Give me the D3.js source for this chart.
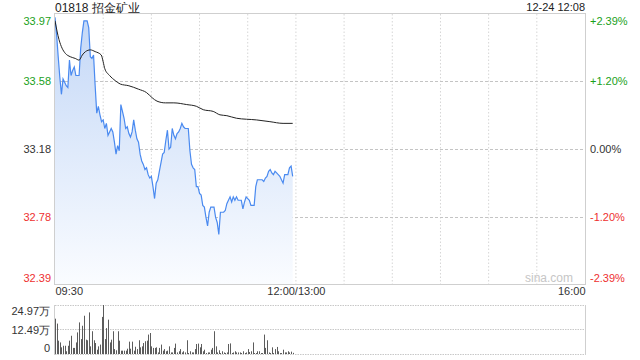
<!DOCTYPE html>
<html>
<head>
<meta charset="utf-8">
<script src="https://cdn.jsdelivr.net/npm/d3@7"></script>
<style>
  body { margin: 0; background: #fff; }
  text { font-family: Arial, "Liberation Sans", sans-serif; }
</style>
</head>
<body>
<svg id="chart" width="640" height="360"></svg>
<script>
// intraday chart, 01818

const title = "01818 招金矿业";
const stamp = "12-24 12:08";
const prevClose = 33.18;

const priceTicks = [33.97, 33.58, 33.18, 32.78, 32.39];
const pctLabels = ["+2.39%", "+1.20%", "0.00%", "-1.20%", "-2.39%"];
const timeTicks = [0, 150, 330];
const timeLabels = ["09:30", "12:00/13:00", "16:00"];
const volTicks = [24.97, 12.49, 0];
const volLabels = ["24.97万", "12.49万", "0"];

// one price per minute from 09:30
const prices = [
  33.95, 33.85, 33.72, 33.60, 33.50, 33.59, 33.57, 33.55, 33.54, 33.70,
  33.61, 33.64, 33.66, 33.61, 33.61, 33.61, 33.77, 33.86, 33.93, 33.93,
  33.93, 33.89, 33.72, 33.71, 33.73, 33.55, 33.39, 33.43, 33.38, 33.34,
  33.35, 33.30, 33.33, 33.26, 33.28, 33.30, 33.28, 33.22, 33.15, 33.20,
  33.17, 33.44, 33.40, 33.36, 33.30, 33.31, 33.27, 33.25, 33.28, 33.35,
  33.29, 33.24, 33.22, 33.15, 33.11, 33.09, 33.06, 33.07, 33.03, 33.01,
  33.02, 32.96, 32.89, 32.98, 33.00, 33.05, 33.10, 33.15, 33.16, 33.23,
  33.29, 33.18, 33.19, 33.30, 33.26, 33.24, 33.27, 33.28, 33.30, 33.33,
  33.31, 33.30, 33.30, 33.30, 33.17, 33.09, 33.07, 33.06, 32.96, 32.96,
  32.92, 32.91, 32.85, 32.84, 32.78, 32.73, 32.81, 32.84, 32.84, 32.84,
  32.78, 32.75, 32.68, 32.81, 32.81, 32.81, 32.82, 32.86, 32.88, 32.90,
  32.87, 32.90, 32.88, 32.90, 32.88, 32.88, 32.88, 32.83, 32.87, 32.90,
  32.89, 32.88, 32.85, 32.85, 32.85, 32.96, 33.00, 33.00, 33.00, 33.00,
  32.99, 33.01, 33.02, 33.05, 33.06, 33.04, 33.03, 33.05, 33.04, 33.03,
  33.02, 33.00, 32.98, 33.03, 33.03, 33.03, 33.07, 33.08, 33.02
];

// average price line, read at these minutes
const avgMinutes = [0, 2.5, 4.4, 6.4, 9.5, 12.6, 15, 17, 19, 22, 25, 28.8, 30, 31, 34,
  37.5, 40.7, 46, 52, 57, 60.5, 63.5, 68.7, 74, 82, 88, 92.3, 98.5, 102.7, 107, 113,
  125.6, 133.8, 142, 148];
const avgPrices = [33.93, 33.82, 33.77, 33.74, 33.72, 33.71, 33.70, 33.73, 33.75, 33.76,
  33.75, 33.73, 33.69, 33.65, 33.61, 33.58, 33.56, 33.55, 33.53, 33.51, 33.48, 33.46,
  33.45, 33.45, 33.44, 33.43, 33.41, 33.40, 33.38, 33.375, 33.36, 33.35, 33.34, 33.33, 33.33];

// volume per minute, in 万 shares
const volumes = [
  18.0, 15.5, 6.8, 5.9, 3.4, 4.2, 4.2, 1.4, 4.2, 6.8,
  9.3, 3.1, 3.1, 5.9, 11.0, 16.1, 7.6, 14.4, 19.5, 7.3,
  7.0, 21.2, 3.9, 11.6, 7.0, 5.6, 2.2, 3.9, 4.8, 18.9,
  24.97, 7.6, 13.2, 17.5, 5.9, 7.3, 11.6, 2.5, 1.9, 11.6,
  6.8, 1.7, 1.7, 1.7, 1.7, 2.7, 6.3, 2.7, 6.3, 1.7,
  3.7, 2.5, 7.0, 3.4, 3.9, 5.6, 6.5, 6.8, 9.9, 10.7,
  3.9, 3.1, 3.1, 3.4, 0.8, 3.1, 4.8, 1.7, 2.5, 1.4,
  1.7, 3.9, 0.8, 0.8, 3.1, 5.3, 0.8, 1.4, 2.5, 0.8,
  1.4, 0.8, 7.0, 0.5, 1.4, 0.8, 0.8, 2.5, 5.1, 5.3,
  3.4, 5.1, 1.4, 2.2, 0.5, 0.8, 0.8, 2.2, 3.1, 11.6,
  3.9, 0.8, 1.9, 0.5, 1.4, 0.8, 0.5, 0.8, 5.1, 5.4,
  0.5, 0.8, 1.4, 0.8, 0.8, 0.8, 0.5, 1.4, 0.5, 0.8,
  2.5, 1.0, 1.4, 5.9, 0.5, 0.5, 1.4, 1.4, 0.5, 0.5,
  9.9, 3.1, 7.0, 0.8, 0.5, 3.4, 0.5, 2.5, 3.6, 1.4,
  0.5, 0.5, 2.2, 0.8, 0.8, 1.4, 0.8, 1.2, 0.6
];

const margin = { top: 14, right: 55, bottom: 76, left: 55 };
const width = 640 - margin.left - margin.right;   // 530
const height = 284 - margin.top;                  // price panel
const volTop = 305, volBottom = 354;

const green = "#1a9f1a", red = "#ee3030", dark = "#333";
const colorOf = v => v > prevClose ? green : (v < prevClose ? red : dark);

const svg = d3.select("#chart");

const x = d3.scaleLinear().domain([0, 330]).range([margin.left, margin.left + width]);
const y = d3.scaleLinear().domain([32.39, 33.97]).range([284, margin.top]);
const yVol = d3.scaleLinear().domain([0, 24.97]).range([volBottom, volTop]);

// gradient under the price line
const defs = svg.append("defs");
const grad = defs.append("linearGradient")
    .attr("id", "fillGrad")
    .attr("x1", 0).attr("y1", 0).attr("x2", 0).attr("y2", 1);
grad.append("stop").attr("offset", "0%").attr("stop-color", "#c4d8f7");
grad.append("stop").attr("offset", "100%").attr("stop-color", "#fafcff");

// vertical grid every 30 min
svg.append("g")
    .selectAll("line")
    .data(d3.range(30, 330, 30))
    .enter()
    .append("line")
    .attr("x1", d => x(d)).attr("x2", d => x(d))
    .attr("y1", margin.top).attr("y2", 284)
    .attr("stroke", "#d6d6d6")
    .attr("stroke-dasharray", "1.5,2");

// horizontal grid
svg.append("g")
    .selectAll("line")
    .data(priceTicks.slice(1, -1))
    .enter()
    .append("line")
    .attr("x1", x(0)).attr("x2", x(330))
    .attr("y1", d => Math.round(y(d)) + 0.5).attr("y2", d => Math.round(y(d)) + 0.5)
    .attr("stroke", "#c4c4c4")
    .attr("stroke-dasharray", "3,2");

// area + price line
const pts = prices.map((p, i) => [i, p]);
svg.append("path")
    .datum(pts)
    .attr("fill", "url(#fillGrad)")
    .attr("d", d3.area().x(d => x(d[0])).y0(284).y1(d => y(d[1])));

svg.append("path")
    .datum(pts)
    .attr("fill", "none")
    .attr("stroke", "#4a8af0")
    .attr("stroke-width", 1.2)
    .attr("d", d3.line().x(d => x(d[0])).y(d => y(d[1])));

// average line
svg.append("path")
    .datum(avgMinutes.map((m, i) => [m, avgPrices[i]]))
    .attr("fill", "none")
    .attr("stroke", "#222")
    .attr("stroke-width", 1)
    .attr("d", d3.line().curve(d3.curveMonotoneX).x(d => x(d[0])).y(d => y(d[1])));

// price panel frame
svg.append("rect")
    .attr("x", x(0) - 0.5).attr("y", margin.top - 0.5)
    .attr("width", width + 1).attr("height", height + 1)
    .attr("fill", "none")
    .attr("stroke", "#cfcfcf");

// watermark
svg.append("text")
    .attr("x", 573).attr("y", 282)
    .attr("text-anchor", "end")
    .attr("font-size", "12px")
    .attr("fill", "#c6c6c6")
    .text("sina.com");

// left price labels
const leftAxis = svg.append("g")
    .attr("transform", "translate(" + x(0) + ",0)")
    .call(d3.axisLeft(y).tickValues(priceTicks).tickSize(0).tickPadding(4).tickFormat(d3.format(".2f")));
leftAxis.select(".domain").remove();
leftAxis.selectAll("text")
    .attr("font-size", "11px")
    .attr("font-family", "Arial, 'Liberation Sans', sans-serif")
    .attr("fill", d => colorOf(d))
    .attr("dy", (d, i) => i === 0 ? "0.95em" : (i === priceTicks.length - 1 ? "-0.22em" : "0.32em"));

// right percent labels
const rightAxis = svg.append("g")
    .attr("transform", "translate(" + x(330) + ",0)")
    .call(d3.axisRight(y).tickValues(priceTicks).tickSize(0).tickPadding(5)
        .tickFormat((d, i) => pctLabels[i]));
rightAxis.select(".domain").remove();
rightAxis.selectAll("text")
    .attr("font-size", "11px")
    .attr("font-family", "Arial, 'Liberation Sans', sans-serif")
    .attr("fill", d => colorOf(d))
    .attr("dy", (d, i) => i === 0 ? "0.95em" : (i === priceTicks.length - 1 ? "-0.22em" : "0.32em"));

// time labels
const timeAxis = svg.append("g")
    .attr("transform", "translate(0,284)")
    .call(d3.axisBottom(x).tickValues(timeTicks).tickSize(0).tickPadding(3)
        .tickFormat((d, i) => timeLabels[i]));
timeAxis.select(".domain").remove();
timeAxis.selectAll("text")
    .attr("font-size", "11px")
    .attr("font-family", "Arial, 'Liberation Sans', sans-serif")
    .attr("fill", "#333")
    .style("text-anchor", (d, i) => i === 0 ? "start" : (i === timeTicks.length - 1 ? "end" : "middle"));

// volume panel grid
svg.append("g")
    .selectAll("line")
    .data(volTicks)
    .enter()
    .append("line")
    .attr("x1", x(0)).attr("x2", x(330))
    .attr("y1", d => Math.round(yVol(d)) + 0.5).attr("y2", d => Math.round(yVol(d)) + 0.5)
    .attr("stroke", "#c8c8c8")
    .attr("stroke-dasharray", "1.5,1");

svg.append("line")
    .attr("x1", x(0) - 0.5).attr("x2", x(0) - 0.5)
    .attr("y1", volTop).attr("y2", volBottom + 1)
    .attr("stroke", "#cfcfcf");
svg.append("line")
    .attr("x1", x(330) + 0.5).attr("x2", x(330) + 0.5)
    .attr("y1", volTop).attr("y2", volBottom + 1)
    .attr("stroke", "#cfcfcf");

// volume bars
svg.append("g")
    .selectAll("rect")
    .data(volumes)
    .enter()
    .append("rect")
    .attr("x", (d, i) => Math.round(x(i)))
    .attr("y", d => yVol(d))
    .attr("width", 1)
    .attr("height", d => volBottom - yVol(d))
    .attr("fill", "#5c5c5c");

// volume labels
const volAxis = svg.append("g")
    .attr("transform", "translate(" + x(0) + ",0)")
    .call(d3.axisLeft(yVol).tickValues(volTicks).tickSize(0).tickPadding(5)
        .tickFormat((d, i) => volLabels[i]));
volAxis.select(".domain").remove();
volAxis.selectAll("text")
    .attr("font-size", "11px")
    .attr("font-family", "Arial, 'Liberation Sans', 'Noto Sans CJK SC', sans-serif")
    .attr("fill", "#333")
    .attr("dy", (d, i) => i === 0 ? "0.85em" : (i === volTicks.length - 1 ? "-0.2em" : "0.32em"));

// header
svg.append("text")
    .attr("x", x(0)).attr("y", 11.5)
    .attr("font-size", "12px")
    .attr("font-family", "Arial, 'Liberation Sans', 'Noto Sans CJK SC', sans-serif")
    .attr("fill", "#222")
    .text(title);

svg.append("text")
    .attr("x", x(330)).attr("y", 11)
    .attr("text-anchor", "end")
    .attr("font-size", "11px")
    .attr("fill", "#222")
    .text(stamp);
</script>
</body>
</html>
